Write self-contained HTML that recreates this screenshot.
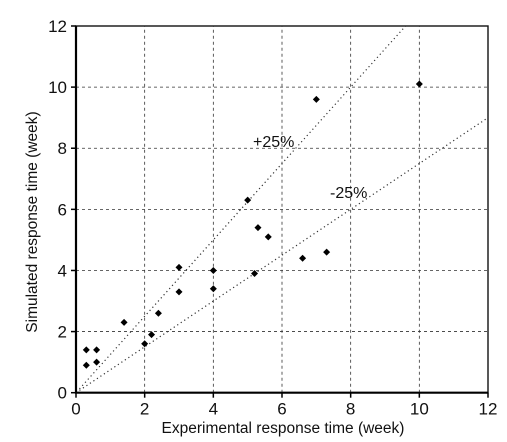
<!DOCTYPE html>
<html><head><meta charset="utf-8"><style>
body{margin:0;background:#fff;}
svg{display:block;font-family:"Liberation Sans",sans-serif;}
</style></head><body>
<svg id="chart" width="507" height="442" viewBox="0 0 507 442"></svg>
<script>
const xTicks=[0,2,4,6,8,10,12];
const yTicks=[0,2,4,6,8,10,12];
const expX=[0.3,0.6,0.3,0.6,1.4,2.0,2.2,2.4,3,3,4,4,5,5.2,5.3,5.6,6.6,7.3,7,10];
const simY=[1.4,1.4,0.9,1.0,2.3,1.6,1.9,2.6,4.1,3.3,4.0,3.4,6.3,3.9,5.4,5.1,4.4,4.6,9.6,10.1];
const bandFactors=[1.25,0.75];
const bandLabels=["+25%","-25%"];
const NS="http://www.w3.org/2000/svg";
const svg=document.getElementById('chart');
const X0=76,X1=488,Y0=392.7,Y1=26;
const sx=v=>X0+(v-0)/12*(X1-X0);
const sy=v=>Y0-(v-0)/12*(Y0-Y1);
function mk(tag,at,parent){const e=document.createElementNS(NS,tag);for(const k in at)e.setAttribute(k,at[k]);(parent||svg).appendChild(e);return e;}
xTicks.forEach(t=>{if(t>0&&t<12){const l=mk('line',{x1:sx(t),x2:sx(t),y1:Y0,y2:Y1,stroke:'#333','stroke-width':0.8,'stroke-dasharray':'3,3'});

}});
yTicks.forEach(t=>{if(t>0&&t<12){const l=mk('line',{x1:X0,x2:X1,y1:sy(t),y2:sy(t),stroke:'#333','stroke-width':0.8,'stroke-dasharray':'3,3'});

}});
bandFactors.forEach((f,i)=>{const x0=0.1;let x1=12;if(f*x1>12)x1=12/f;
const l=mk('line',{x1:sx(x0),y1:sy(x0*f),x2:sx(x1),y2:sy(x1*f),stroke:'#333','stroke-width':1.2,'stroke-dasharray':'1.2,3'});

});
const lp=mk('text',{x:253,y:147,'font-size':16,fill:'#111'});lp.textContent=bandLabels[0];


const lm=mk('text',{x:330,y:198,'font-size':16,fill:'#111'});lm.textContent=bandLabels[1];


const fr=mk('rect',{x:X0,y:Y1,width:X1-X0,height:Y0-Y1,fill:'none',stroke:'#111','stroke-width':1.4});


const ax=mk('path',{d:`M${X0},${Y1} L${X0},${Y0} L${X1},${Y0}`,fill:'none',stroke:'#000','stroke-width':2.2});


xTicks.forEach(t=>{mk('line',{x1:sx(t),x2:sx(t),y1:Y0,y2:Y0+5,stroke:'#000','stroke-width':1.5});
const tx=mk('text',{x:sx(t),y:Y0+22,'font-size':17,'text-anchor':'middle',fill:'#111'});tx.textContent=t;

});
yTicks.forEach(t=>{mk('line',{x1:X0-5,x2:X0,y1:sy(t),y2:sy(t),stroke:'#000','stroke-width':1.5});
const tx=mk('text',{x:X0-9,y:sy(t)+6,'font-size':17,'text-anchor':'end',fill:'#111'});tx.textContent=t;

});
expX.forEach((v,i)=>{const cx=sx(v),cy=sy(simY[i]);
const p=mk('path',{d:`M${cx},${cy-3.5} L${cx+3.5},${cy} L${cx},${cy+3.5} L${cx-3.5},${cy} Z`,fill:'#000'});

});
const xt=mk('text',{x:283,y:433,'font-size':15.5,'text-anchor':'middle',fill:'#111'});xt.textContent='Experimental response time (week)';


const yt=mk('text',{x:0,y:0,'font-size':15.5,'text-anchor':'middle',fill:'#111',transform:'translate(37,222) rotate(-90)'});yt.textContent='Simulated response time (week)';


</script>
</body></html>
